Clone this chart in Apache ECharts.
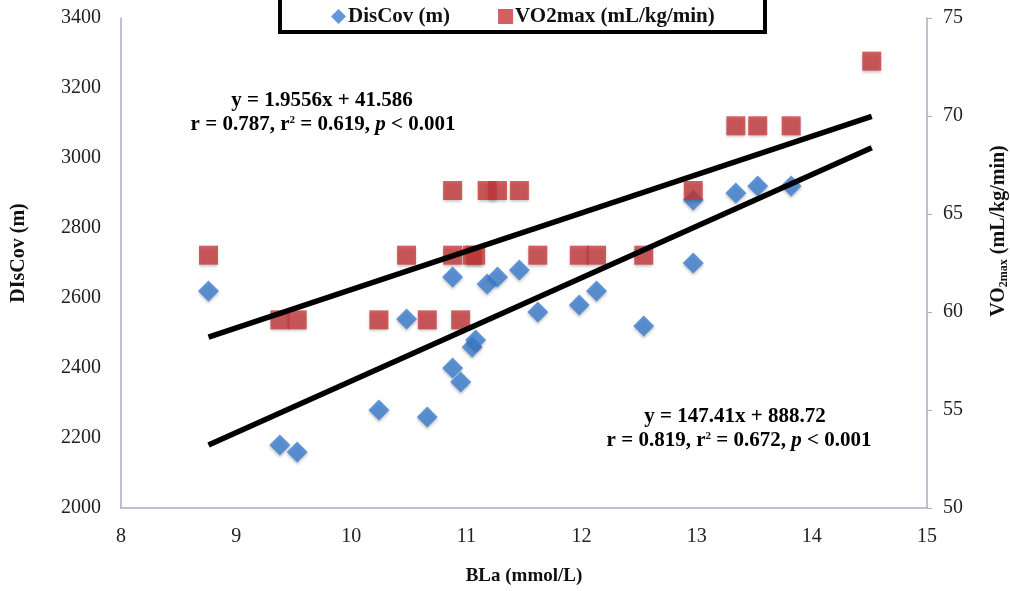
<!DOCTYPE html>
<html>
<head>
<meta charset="utf-8">
<script src="https://cdn.jsdelivr.net/npm/echarts@6/dist/echarts.min.js"></script>
<style>
  html, body { margin: 0; padding: 0; background: #fff; }
  #main { width: 1010px; height: 591px; }
</style>
</head>
<body>
<div id="main"></div>
<script>
// BLa (mmol/L) for each player
var blaValues = [8.76, 9.38, 9.53, 10.24, 10.48, 10.66, 10.88, 10.88, 10.95, 11.05, 11.08,
                 11.18, 11.27, 11.46, 11.62, 11.98, 12.13, 12.54, 12.97, 12.97, 13.34, 13.53, 13.82];
// DisCov (m)
var discovValues = [2620, 2180, 2160, 2280, 2540, 2260, 2660, 2400, 2360, 2460, 2480,
                    2640, 2660, 2680, 2560, 2580, 2620, 2520, 2700, 2880, 2900, 2920, 2920];
// VO2max (mL/kg/min)
var vo2Bla = [8.76, 9.38, 9.53, 10.24, 10.48, 10.66, 10.88, 10.88, 10.95, 11.05, 11.08,
              11.18, 11.27, 11.46, 11.62, 11.98, 12.13, 12.54, 12.97, 13.34, 13.53, 13.82, 14.52];
var vo2Values = [62.9, 59.6, 59.6, 59.6, 62.9, 59.6, 66.2, 62.9, 59.6, 62.9, 62.9,
                 66.2, 66.2, 66.2, 62.9, 62.9, 62.9, 62.9, 66.2, 69.5, 69.5, 69.5, 72.8];

// regression coefficients as printed on the chart
var fitVo2 = [1.9556, 41.586];
var fitDis = [147.41, 888.72];
var fitRange = [8.76, 14.52];

var xTicks = [8, 9, 10, 11, 12, 13, 14, 15];

function zip(xs, ys) {
    var out = [];
    for (var i = 0; i < xs.length; i++) out.push([xs[i], ys[i]]);
    return out;
}
function fitLine(c) {
    return fitRange.map(function (x) { return [x, c[0] * x + c[1]]; });
}
function plain(v) { return String(v); }

var serif = '"Liberation Serif", "DejaVu Serif", serif';
var axisGray = '#a7adc2';

var statRich = {
    n: { font: 'bold 21px ' + serif, fill: '#000' },
    s: { font: 'bold 11px ' + serif, fill: '#000', verticalAlign: 'top', padding: [0, 0, 9, 0] },
    i: { font: 'italic bold 21px ' + serif, fill: '#000' }
};

var myChart = echarts.init(document.getElementById('main'));

var option = {
    animation: false,
    backgroundColor: '#fff',
    textStyle: { fontFamily: serif },
    grid: { left: 121, right: 83, top: 18, bottom: 82 },
    legend: {
        data: ['DisCov (m)', 'VO2max (mL/kg/min)'],
        left: 326,
        top: 1,
        itemGap: 48,
        itemWidth: 15,
        itemHeight: 15,
        itemStyle: { shadowBlur: 0, shadowOffsetY: 0 },
        textStyle: { fontFamily: serif, fontWeight: 'bold', fontSize: 21, color: '#111', padding: [0, 0, 0, -3] }
    },
    graphic: [
        {
            type: 'rect',
            shape: { x: 280, y: -10, width: 485, height: 42 },
            style: { fill: 'none', stroke: '#000', lineWidth: 4 },
            z: 100
        },
        {
            type: 'text',
            style: {
                x: 322, y: 101, align: 'center', verticalAlign: 'middle',
                text: 'y = 1.9556x + 41.586',
                font: 'bold 21px ' + serif, fill: '#000'
            }
        },
        {
            type: 'text',
            style: {
                x: 323, y: 125, align: 'center', verticalAlign: 'middle',
                text: '{n|r = 0.787, r}{s|2}{n| = 0.619, }{i|p}{n| < 0.001}',
                rich: statRich
            }
        },
        {
            type: 'text',
            style: {
                x: 735, y: 417, align: 'center', verticalAlign: 'middle',
                text: 'y = 147.41x + 888.72',
                font: 'bold 21px ' + serif, fill: '#000'
            }
        },
        {
            type: 'text',
            style: {
                x: 739, y: 441, align: 'center', verticalAlign: 'middle',
                text: '{n|r = 0.819, r}{s|2}{n| = 0.672, }{i|p}{n| < 0.001}',
                rich: statRich
            }
        },
        {
            // right axis title, with subscript
            type: 'text',
            x: 999, y: 231,
            rotation: Math.PI / 2,
            style: {
                x: 0, y: 0, align: 'center', verticalAlign: 'middle',
                text: '{a|VO}{b|2max}{a| (mL/kg/min)}',
                rich: {
                    a: { font: 'bold 20px ' + serif, fill: '#111' },
                    b: { font: 'bold 12px ' + serif, fill: '#111', verticalAlign: 'bottom', padding: [9, 0, 0, 0] }
                }
            }
        }
    ],
    xAxis: {
        type: 'value',
        min: xTicks[0],
        max: xTicks[xTicks.length - 1],
        interval: 1,
        name: 'BLa (mmol/L)',
        nameLocation: 'middle',
        nameGap: 59,
        nameTextStyle: { fontFamily: serif, fontWeight: 'bold', fontSize: 19, color: '#111' },
        axisLine: { lineStyle: { color: axisGray, width: 1.5 } },
        axisTick: { show: false },
        axisLabel: { fontFamily: serif, fontSize: 20, color: '#222', margin: 19, formatter: plain },
        splitLine: { show: false }
    },
    yAxis: [
        {
            type: 'value',
            min: 2000,
            max: 3400,
            interval: 200,
            name: 'DIsCov (m)',
            nameLocation: 'middle',
            nameGap: 92,
            nameTextStyle: { fontFamily: serif, fontWeight: 'bold', fontSize: 20, color: '#111', padding: [0, 0, 0, 20] },
            axisLine: { show: true, lineStyle: { color: axisGray, width: 1.5 } },
            axisTick: { show: false },
            axisLabel: { fontFamily: serif, fontSize: 20, color: '#222', margin: 20, formatter: plain },
            splitLine: { show: false }
        },
        {
            type: 'value',
            position: 'right',
            min: 50,
            max: 75,
            interval: 5,
            axisLine: { show: true, lineStyle: { color: axisGray, width: 1.5 } },
            axisTick: { show: true, inside: false, length: 5, lineStyle: { color: axisGray } },
            axisLabel: { fontFamily: serif, fontSize: 20, color: '#222', margin: 16, formatter: plain },
            splitLine: { show: false }
        }
    ],
    series: [
        {
            name: 'DisCov (m)',
            type: 'scatter',
            yAxisIndex: 0,
            symbol: 'diamond',
            symbolSize: 21,
            itemStyle: {
                color: '#3b7dd0',
                shadowBlur: 3, shadowColor: 'rgba(0,0,0,0.3)', shadowOffsetY: 2
            },
            data: zip(blaValues, discovValues),
            z: 2
        },
        {
            name: 'VO2max (mL/kg/min)',
            type: 'scatter',
            yAxisIndex: 1,
            symbol: 'rect',
            symbolSize: 19,
            itemStyle: {
                color: '#c4383a',
                shadowBlur: 3, shadowColor: 'rgba(0,0,0,0.3)', shadowOffsetY: 2
            },
            data: zip(vo2Bla, vo2Values),
            z: 3
        },
        {
            name: 'fitVo2',
            type: 'line',
            yAxisIndex: 1,
            showSymbol: false,
            symbol: 'none',
            lineStyle: { color: '#000', width: 5.5 },
            data: fitLine(fitVo2),
            z: 4
        },
        {
            name: 'fitDis',
            type: 'line',
            yAxisIndex: 0,
            showSymbol: false,
            symbol: 'none',
            lineStyle: { color: '#000', width: 5.5 },
            data: fitLine(fitDis),
            z: 4
        }
    ]
};

myChart.setOption(option);
</script>
</body>
</html>
